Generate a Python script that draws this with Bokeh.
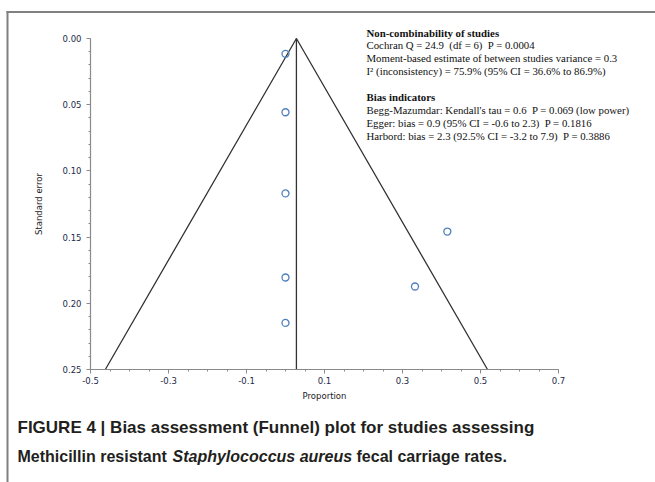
from bokeh.plotting import figure
from bokeh.models import Range1d, FixedTicker, Label, BoxAnnotation, CustomJSTickFormatter
from bokeh.embed import file_html
from bokeh.resources import INLINE

# ---- data ----
study_proportion = [0.0, 0.0, 0.0, 0.0, 0.0, 0.415, 0.332]
study_se = [0.0116, 0.0557, 0.117, 0.1805, 0.2148, 0.1458, 0.1873]
pooled_proportion = 0.028
funnel_x = [-0.462, 0.028, 0.518]
funnel_se = [0.25, 0.0, 0.25]
x_major = [-0.5, -0.3, -0.1, 0.1, 0.3, 0.5, 0.7]
x_minor = [round(-0.5 + 0.05 * i, 2) for i in range(25)]
y_major = [0.0, 0.05, 0.10, 0.15, 0.20, 0.25]
y_minor = [round(0.01 * i, 2) for i in range(26)]

NB = "\u00a0"
stats_block1_title = "Non-combinability of studies"
stats_block1 = [
    "Cochran Q = 24.9 " + NB + "(df = 6) " + NB + "P = 0.0004",
    "Moment-based estimate of between studies variance = 0.3",
    "I\u00b2 (inconsistency) = 75.9% (95% CI = 36.6% to 86.9%)",
]
stats_block2_title = "Bias indicators"
stats_block2 = [
    "Begg-Mazumdar: Kendall's tau = 0.6 " + NB + "P = 0.069 (low power)",
    "Egger: bias = 0.9 (95% CI = -0.6 to 2.3) " + NB + "P = 0.1816",
    "Harbord: bias = 2.3 (92.5% CI = -3.2 to 7.9) " + NB + "P = 0.3886",
]

W, H = 655, 482
AX_L, AX_R, AX_T, AX_B = 90, 558, 38, 369  # axis extents in pixels
X0, X1 = -0.5, 0.7
Y0, Y1 = 0.0, 0.25
sx = (AX_R - AX_L) / (X1 - X0)
sy = (AX_B - AX_T) / (Y1 - Y0)


def xd(px):
    return X0 + (px - AX_L) / sx


def yd(py):
    return Y0 + (py - AX_T) / sy


p = figure(width=W, height=H, output_backend="svg", toolbar_location=None,
           x_range=Range1d(xd(0), xd(W)), y_range=Range1d(yd(H), yd(0)),
           min_border=0, min_border_left=0, min_border_right=0,
           min_border_top=0, min_border_bottom=0)
p.outline_line_color = None
p.grid.visible = False
p.background_fill_color = "white"
p.border_fill_color = "white"

tick_color = "#1c2a48"
axis_gray = "#8a8a8a"

for ax in (p.xaxis[0], p.yaxis[0]):
    ax.axis_line_color = axis_gray
    ax.axis_line_width = 1.2
    ax.major_tick_line_color = axis_gray
    ax.minor_tick_line_color = axis_gray
    ax.major_tick_out = 4
    ax.major_tick_in = 0
    ax.minor_tick_out = 2
    ax.minor_tick_in = 0
    ax.major_label_text_font = "DejaVu Sans"
    ax.major_label_text_font_size = "8.5px"
    ax.major_label_text_color = tick_color
    ax.axis_label_text_font = "DejaVu Sans"
    ax.axis_label_text_font_size = "8.5px"
    ax.axis_label_text_font_style = "normal"
    ax.axis_label_text_color = "#222222"

p.xaxis.fixed_location = Y1
p.yaxis.fixed_location = X0
p.xaxis.bounds = (X0, X1)
p.yaxis.bounds = (Y0, Y1)
p.xaxis.ticker = FixedTicker(ticks=x_major, minor_ticks=x_minor)
p.yaxis.ticker = FixedTicker(ticks=y_major, minor_ticks=y_minor)
p.xaxis.formatter = CustomJSTickFormatter(code="return tick.toFixed(1);")
p.yaxis.formatter = CustomJSTickFormatter(code="return tick.toFixed(2);")
p.xaxis.axis_label = "Proportion"
p.yaxis.axis_label = "Standard error"
p.xaxis.major_label_standoff = 3
p.yaxis.major_label_standoff = 5
p.xaxis.axis_label_standoff = 4
p.yaxis.axis_label_standoff = 16

# funnel
p.line(funnel_x, funnel_se, line_color="#333333", line_width=1.3)
p.line([pooled_proportion, pooled_proportion], [Y0, Y1], line_color="#333333", line_width=1.3)

# studies
p.scatter(study_proportion, study_se, marker="circle", size=7, fill_color=None,
          line_color="#4f7fbf", line_width=1.3)

# statistics text
tx = 366
lh = 13
fs = "10.8px"
y = 32
p.add_layout(Label(x=xd(tx), y=yd(y), text=stats_block1_title, text_font="Liberation Serif",
                   text_font_size=fs, text_font_style="bold", text_baseline="middle",
                   text_color="#111111"))
for i, t in enumerate(stats_block1):
    p.add_layout(Label(x=xd(tx), y=yd(y - 1 + lh * (i + 1)), text=t, text_font="Liberation Serif",
                       text_font_size=fs, text_baseline="middle", text_color="#111111"))
y = 96
p.add_layout(Label(x=xd(tx), y=yd(y), text=stats_block2_title, text_font="Liberation Serif",
                   text_font_size=fs, text_font_style="bold", text_baseline="middle",
                   text_color="#111111"))
for i, t in enumerate(stats_block2):
    p.add_layout(Label(x=xd(tx), y=yd(y + lh * (i + 1)), text=t, text_font="Liberation Serif",
                       text_font_size=fs, text_baseline="middle", text_color="#111111"))

# outer frame lines
p.add_layout(BoxAnnotation(left=xd(6), right=xd(655), top=yd(10.5), bottom=yd(12.5),
                           fill_color="#808080", fill_alpha=1, line_color=None, level="overlay"))
p.add_layout(BoxAnnotation(left=xd(6), right=xd(8), top=yd(10.5), bottom=yd(482),
                           fill_color="#808080", fill_alpha=1, line_color=None, level="overlay"))

# caption
cap_font = "Liberation Sans"
cs = "17px"
cs2 = "16px"
p.add_layout(Label(x=xd(17), y=yd(427), text="FIGURE 4 | Bias assessment (Funnel) plot for studies assessing",
                   text_font=cap_font, text_font_size=cs, text_font_style="bold",
                   text_baseline="middle", text_color="#231f20"))
p.add_layout(Label(x=xd(17), y=yd(456), text="Methicillin resistant",
                   text_font=cap_font, text_font_size=cs2, text_font_style="bold",
                   text_baseline="middle", text_color="#231f20"))
p.add_layout(Label(x=xd(172), y=yd(456), text="Staphylococcus aureus",
                   text_font=cap_font, text_font_size=cs2, text_font_style="bold italic",
                   text_baseline="middle", text_color="#231f20"))
p.add_layout(Label(x=xd(356), y=yd(456), text="fecal carriage rates.",
                   text_font=cap_font, text_font_size=cs2, text_font_style="bold",
                   text_baseline="middle", text_color="#231f20"))

open("out.html", "w").write(file_html(p, INLINE))
